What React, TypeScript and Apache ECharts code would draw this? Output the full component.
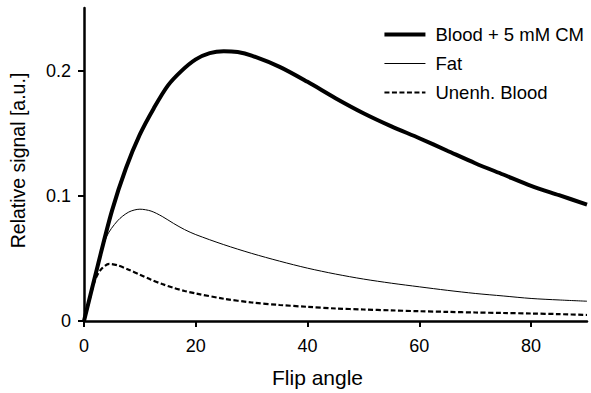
import React, { useEffect, useRef } from "react";
import * as echarts from "echarts";

const seriesNames = ["Blood + 5 mM CM", "Fat", "Unenh. Blood"];

const cmAngles = [0, 2.5, 5, 7.5, 10, 12.5, 15, 17.5, 20, 22.5, 25, 27.5, 30, 35, 40, 45, 50, 55, 60, 65, 70, 75, 80, 85, 90];
const cmValues = [0, 0.045, 0.088, 0.122, 0.149, 0.17, 0.188, 0.2, 0.209, 0.214, 0.2155, 0.2148, 0.212, 0.203, 0.191, 0.178, 0.166, 0.1555, 0.146, 0.136, 0.126, 0.117, 0.108, 0.1005, 0.093];

const fatAngles = [0, 2, 4, 6, 8, 10, 12, 14, 16, 18, 20, 25, 30, 35, 40, 45, 50, 55, 60, 65, 70, 75, 80, 85, 90];
const fatValues = [0, 0.037, 0.067, 0.08, 0.087, 0.0893, 0.0878, 0.0835, 0.078, 0.073, 0.069, 0.061, 0.054, 0.0478, 0.0422, 0.0375, 0.0335, 0.0302, 0.0273, 0.0245, 0.022, 0.02, 0.018, 0.0168, 0.0158];

const unAngles = [0, 1, 2, 3, 4.5, 6, 8, 10, 12, 14, 16, 18, 20, 25, 30, 35, 40, 45, 50, 55, 60, 65, 70, 75, 80, 85, 90];
const unValues = [0, 0.017, 0.033, 0.041, 0.0456, 0.0445, 0.041, 0.037, 0.033, 0.0295, 0.0265, 0.024, 0.022, 0.0178, 0.0148, 0.0128, 0.0113, 0.01, 0.0092, 0.0085, 0.0078, 0.0073, 0.0068, 0.0064, 0.006, 0.0055, 0.0048];

const xTicks = [0, 20, 40, 60, 80];
const yTicks = [0, 0.1, 0.2];

const pairs = (xs: number[], ys: number[]) => xs.map((x, i) => [x, ys[i]]);

const FONT = "'Liberation Sans', Arial, sans-serif";

const lineStyles = [
  { color: "#000", width: 4 },
  { color: "#000", width: 1 },
  { color: "#000", width: 2.2, type: [5, 2.5] },
];

export default function App() {
  const ref = useRef<HTMLDivElement>(null);
  useEffect(() => {
    if (!ref.current) return;
    const chart = echarts.init(ref.current, undefined, { renderer: "svg" });
    const axisLine = { show: true, lineStyle: { color: "#000", width: 2.5 } };
    const tick = (vals: number[]) => ({
      show: true,
      length: 6,
      inside: false,
      lineStyle: { color: "#000", width: 2 },
      customValues: vals,
    });
    chart.setOption({
      animation: false,
      backgroundColor: "#fff",
      textStyle: { fontFamily: FONT },
      grid: { left: 83, right: 4, top: 8, bottom: 72, containLabel: false },
      legend: {
        orient: "vertical",
        right: 2,
        top: 20,
        itemWidth: 41,
        itemHeight: 18,
        itemGap: 10,
        itemStyle: { opacity: 0 },
        textStyle: { fontFamily: FONT, fontSize: 18.5, color: "#000", padding: [0, 0, 0, 5] },
        data: seriesNames.map((name, i) => ({ name, lineStyle: lineStyles[i] })),
      },
      xAxis: {
        type: "value",
        min: 0,
        max: 90,
        interval: 20,
        name: "Flip angle",
        nameLocation: "middle",
        nameGap: 46,
        nameTextStyle: {
          fontFamily: FONT,
          fontSize: 21,
          color: "#000",
          padding: [0, 36, 0, 0],
        },
        axisLine,
        splitLine: { show: false },
        axisTick: tick(xTicks),
        axisLabel: { color: "#000", fontSize: 18, margin: 16, fontFamily: FONT, customValues: xTicks },
      },
      yAxis: {
        type: "value",
        min: 0,
        max: 0.25,
        interval: 0.1,
        name: "Relative signal [a.u.]",
        nameLocation: "middle",
        nameGap: 56,
        nameTextStyle: { fontFamily: FONT, fontSize: 19.5, color: "#000", padding: [0, 0, 0, 8] },
        axisLine,
        splitLine: { show: false },
        axisTick: tick(yTicks),
        axisLabel: {
          color: "#000",
          fontSize: 18,
          margin: 13,
          fontFamily: FONT,
          customValues: yTicks,
          formatter: (v: number) => (v === 0 ? "0" : String(Math.round(v * 10) / 10)),
        },
      },
      series: seriesNames.map((name, i) => ({
        name,
        type: "line",
        data: [
          pairs(cmAngles, cmValues),
          pairs(fatAngles, fatValues),
          pairs(unAngles, unValues),
        ][i],
        smooth: 0.3,
        symbol: "none",
        lineStyle: lineStyles[i],
        itemStyle: { color: "#000" },
        z: 3 - i,
      })),
    });
    return () => chart.dispose();
  }, []);
  return <div ref={ref} style={{ width: 591, height: 393, position: "absolute", left: 0, top: 0 }} />;
}
